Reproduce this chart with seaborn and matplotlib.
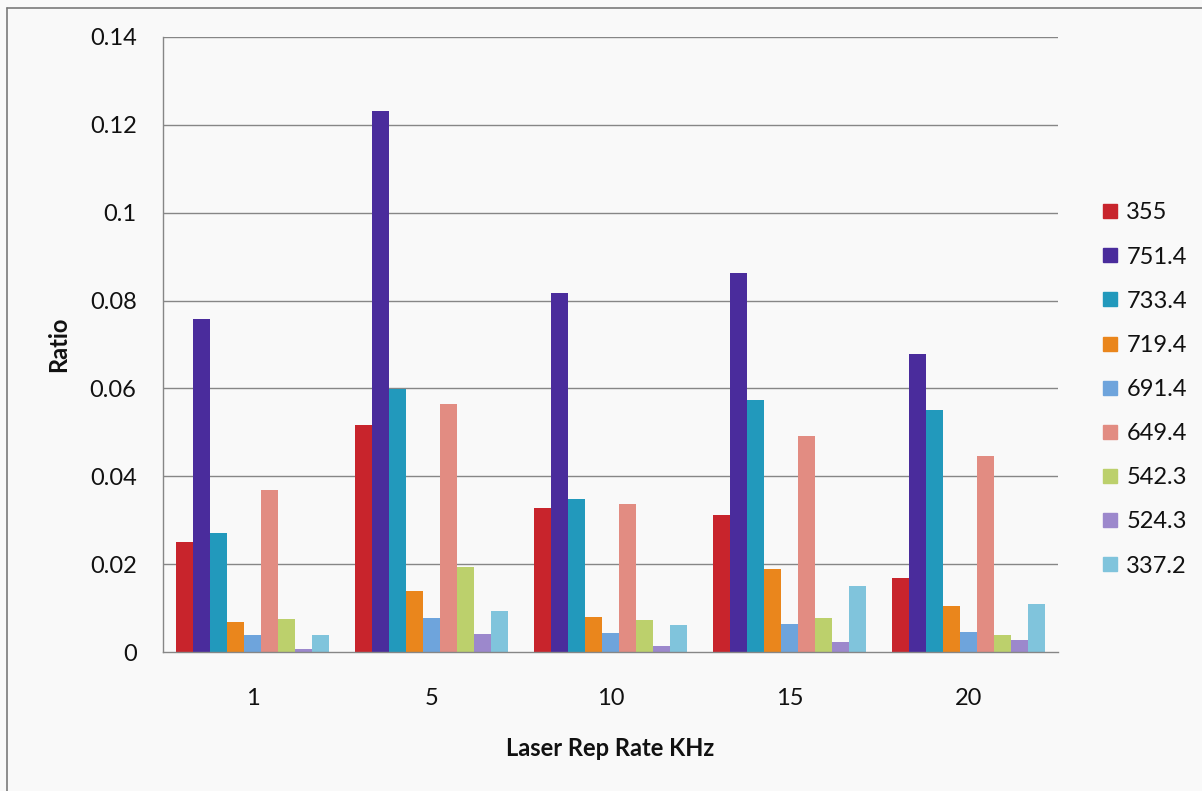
import matplotlib
matplotlib.use("Agg")
import matplotlib.pyplot as plt
from matplotlib.lines import Line2D
import numpy as np
import pandas as pd
import seaborn as sns

# Repetition rates (kHz) on the x axis
rep_rates = ["1", "5", "10", "15", "20"]

# Emission lines (nm) shown as series
wavelengths = ["355", "751.4", "733.4", "719.4", "691.4", "649.4", "542.3", "524.3", "337.2"]

# Ratio values per emission line, one value per repetition rate
r355   = [0.0251, 0.0518, 0.0329, 0.0313, 0.0170]
r751_4 = [0.0758, 0.1230, 0.0816, 0.0863, 0.0678]
r733_4 = [0.0271, 0.0598, 0.0348, 0.0573, 0.0550]
r719_4 = [0.0069, 0.0139, 0.0080, 0.0189, 0.0106]
r691_4 = [0.0039, 0.0077, 0.0044, 0.0065, 0.0046]
r649_4 = [0.0370, 0.0564, 0.0337, 0.0491, 0.0446]
r542_3 = [0.0075, 0.0193, 0.0074, 0.0079, 0.0039]
r524_3 = [0.0008, 0.0041, 0.0014, 0.0023, 0.0027]
r337_2 = [0.0039, 0.0093, 0.0062, 0.0150, 0.0110]

series = [r355, r751_4, r733_4, r719_4, r691_4, r649_4, r542_3, r524_3, r337_2]

colors = ["#c8242c", "#4a2c9c", "#2299bc", "#ea861c", "#6ea4dc",
          "#e28c82", "#bcd06c", "#9c88cc", "#80c4dc"]

rows = []
for wl, vals in zip(wavelengths, series):
    for rate, v in zip(rep_rates, vals):
        rows.append({"rate": rate, "wavelength": wl, "ratio": v})
df = pd.DataFrame(rows)

sns.set_theme(style="white")
plt.rcParams["font.family"] = ["Lato", "DejaVu Sans"]

FS = 17
txt_c = "#111111"
bg = "#f9f9f9"
fig = plt.figure(figsize=(12.02, 7.91), dpi=100, facecolor=bg)
ax = fig.add_axes([163 / 1202, 1 - 652.3 / 791, (1057.7 - 163) / 1202, (652.3 - 36.7) / 791])
ax.set_facecolor(bg)

sns.barplot(data=df, x="rate", y="ratio", hue="wavelength",
            order=rep_rates, hue_order=wavelengths, palette=colors,
            width=0.853, saturation=1, ax=ax, legend=False,
            edgecolor="none", linewidth=0)

ax.set_xlim(-0.5, len(rep_rates) - 0.5)
ax.set_ylim(0, 0.14)
yt = np.arange(0, 0.1401, 0.02)
ax.set_yticks(yt)
ax.set_yticklabels(["0"] + [f"{t:g}" for t in yt[1:]])

grid_c = "#868686"
for t in yt[1:]:
    ax.axhline(t, color=grid_c, lw=1.0, zorder=0.5)
ax.set_axisbelow(True)

for s in ["top", "right"]:
    ax.spines[s].set_visible(False)
for s in ["left", "bottom"]:
    ax.spines[s].set_color(grid_c)
    ax.spines[s].set_linewidth(1.0)

ax.tick_params(axis="y", which="major", direction="out", length=6, width=1,
               color=grid_c, labelsize=FS, pad=13, labelcolor=txt_c)
ax.tick_params(axis="x", which="major", length=0, labelsize=FS, pad=26,
               labelcolor=txt_c)
ax.set_xticks(np.arange(-0.5, len(rep_rates) - 0.49, 1.0), minor=True)
ax.tick_params(axis="x", which="minor", direction="out", length=8, width=1, color=grid_c)

ax.set_xlabel("Laser Rep Rate KHz", fontsize=FS, fontweight="bold", labelpad=20, color=txt_c)
ax.set_ylabel("Ratio", fontsize=FS, fontweight="bold", labelpad=14, color=txt_c)

handles = [Line2D([0], [0], marker="s", linestyle="none", markersize=10,
                  markerfacecolor=c, markeredgecolor=c) for c in colors]
leg = ax.legend(handles, wavelengths, loc="upper left",
                bbox_to_anchor=(1091 / 1202, 1 - 193 / 791), bbox_transform=fig.transFigure,
                frameon=False, fontsize=FS, labelspacing=0.98, handlelength=0.8,
                handletextpad=0.3, borderaxespad=0)
for t in leg.get_texts():
    t.set_color(txt_c)

# Outer chart frame (left and top edges)
fig.add_artist(Line2D([7 / 1202, 7 / 1202], [0, 1 - 8 / 791], transform=fig.transFigure,
                      color="#7a7a7a", lw=1.2))
fig.add_artist(Line2D([7 / 1202, 1], [1 - 8 / 791, 1 - 8 / 791], transform=fig.transFigure,
                      color="#7a7a7a", lw=1.2))

fig.savefig("out.png", dpi=100, facecolor=bg)
